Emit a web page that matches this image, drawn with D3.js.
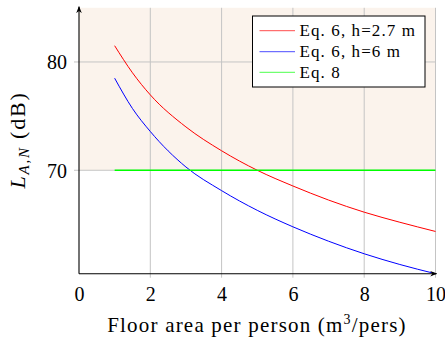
<!DOCTYPE html>
<html>
<head>
<meta charset="utf-8">
<script src="https://cdn.jsdelivr.net/npm/d3@7"></script>
<style>
  body { margin: 0; background: #fff; }
</style>
</head>
<body>
<div id="chart"></div>
<script>
// values
const xs = [1, 1.5, 2, 3, 4, 5, 6, 7, 8, 9, 10];
const red = [81.5, 79.0, 76.96, 74.0, 71.8, 70.0, 68.55, 67.25, 66.13, 65.2, 64.35];
const blue = [78.5, 75.7, 73.58, 70.3, 68.12, 66.3, 64.78, 63.45, 62.29, 61.3, 60.45];
const green = [70, 70];
const greenX = [1, 10];
const xTicks = [0, 2, 4, 6, 8, 10];
const yTicks = [70, 80];
const legendLabels = ['Eq. 6, h=2.7 m', 'Eq. 6, h=6 m', 'Eq. 8'];
const colors = ['#ff0000', '#0000ff', '#00ff00'];

const serif = '"Liberation Serif", "DejaVu Serif", serif';
const W = 445, H = 342;
const margin = {top: 7.8, right: 9.5, bottom: 68.3, left: 79};
const width = W - margin.left - margin.right;
const height = H - margin.top - margin.bottom;

const svg = d3.select('#chart').append('svg')
  .attr('width', W)
  .attr('height', H)
  .style('font-family', serif);

const defs = svg.append('defs');
defs.append('marker')
  .attr('id', 'arrow')
  .attr('viewBox', '0 0 10 10')
  .attr('refX', 9).attr('refY', 5)
  .attr('markerWidth', 7).attr('markerHeight', 7)
  .attr('markerUnits', 'userSpaceOnUse')
  .attr('orient', 'auto')
  .append('path')
  .attr('d', 'M0,1 L10,5 L0,9 L3,5 Z')
  .attr('fill', '#000');

const g = svg.append('g')
  .attr('transform', `translate(${margin.left}, ${margin.top})`);

const x = d3.scaleLinear().domain([0, 10]).range([0, width]);
const y = d3.scaleLinear().domain([60.45, 85]).range([height, 0]);

// shaded region above 70 dB
g.append('rect')
  .attr('x', x(0))
  .attr('y', y(85))
  .attr('width', x(10) - x(0))
  .attr('height', y(70) - y(85))
  .attr('fill', '#fbf3ec');

// grid
g.append('g').selectAll('line').data(xTicks.slice(1)).join('line')
  .attr('x1', d => x(d)).attr('x2', d => x(d))
  .attr('y1', 0).attr('y2', height + 4)
  .attr('stroke', '#c4c4c4').attr('stroke-width', 1);
g.append('g').selectAll('line').data(yTicks).join('line')
  .attr('x1', -5).attr('x2', width)
  .attr('y1', d => y(d)).attr('y2', d => y(d))
  .attr('stroke', '#c4c4c4').attr('stroke-width', 1);

// curves
const line = d3.line()
  .x(d => x(d[0]))
  .y(d => y(d[1]))
  .curve(d3.curveMonotoneX);

const series = [
  d3.zip(xs, red),
  d3.zip(xs, blue),
  d3.zip(greenX, green)
];
series.forEach((s, i) => {
  g.append('path')
    .datum(s)
    .attr('fill', 'none')
    .attr('stroke', colors[i])
    .attr('stroke-width', i === 2 ? 1.3 : 1)
    .attr('d', line);
});

// axes
const xAxis = g.append('g')
  .attr('transform', `translate(0, ${height})`)
  .call(d3.axisBottom(x).tickValues(xTicks).tickSize(0).tickPadding(13).tickFormat(d3.format('d')));
xAxis.select('.domain').remove();

const yAxis = g.append('g')
  .call(d3.axisLeft(y).tickValues(yTicks).tickSize(0).tickPadding(12));
yAxis.select('.domain').remove();
yAxis.selectAll('.tick text').attr('dy', '0.34em');

g.selectAll('.tick text')
  .style('font-family', serif)
  .style('font-size', '20px')
  .attr('fill', '#000');

g.append('line')
  .attr('x1', 0).attr('x2', width + 1)
  .attr('y1', height).attr('y2', height)
  .attr('stroke', '#000').attr('stroke-width', 1.1)
  .attr('marker-end', 'url(#arrow)');
g.append('line')
  .attr('x1', 0).attr('x2', 0)
  .attr('y1', height).attr('y2', -1)
  .attr('stroke', '#000').attr('stroke-width', 1.1)
  .attr('marker-end', 'url(#arrow)');

// axis labels
const xl = svg.append('text')
  .attr('x', 257)
  .attr('y', 332)
  .attr('text-anchor', 'middle')
  .attr('font-size', 21)
  .attr('letter-spacing', 1.2);
xl.append('tspan').text('Floor area per person (m');
xl.append('tspan').attr('font-size', 14).attr('dy', -8).text('3');
xl.append('tspan').attr('dy', 8).text('/pers)');

const yl = svg.append('text')
  .attr('transform', 'translate(25, 140) rotate(-90)')
  .attr('text-anchor', 'middle')
  .attr('font-size', 22)
  .attr('letter-spacing', 1.8);
yl.append('tspan').attr('font-style', 'italic').text('L');
yl.append('tspan').attr('font-style', 'italic').attr('font-size', 15).attr('dy', 4).text('A,N');
yl.append('tspan').attr('dy', -4).text(' (dB)');

// legend
const legend = svg.append('g');
legend.append('rect')
  .attr('x', 252.5).attr('y', 16)
  .attr('width', 172.5).attr('height', 71)
  .attr('fill', '#fff').attr('stroke', '#000').attr('stroke-width', 1);
const rowY = [30.7, 51.7, 72.3];
legendLabels.forEach((lab, i) => {
  legend.append('line')
    .attr('x1', 259.5).attr('x2', 295)
    .attr('y1', rowY[i]).attr('y2', rowY[i])
    .attr('stroke', colors[i]).attr('stroke-opacity', 0.7).attr('stroke-width', 1);
  legend.append('text')
    .attr('x', 299.5).attr('y', rowY[i] + 5.5)
    .attr('font-size', 17)
    .attr('letter-spacing', 1.1)
    .text(lab);
});
</script>
</body>
</html>
